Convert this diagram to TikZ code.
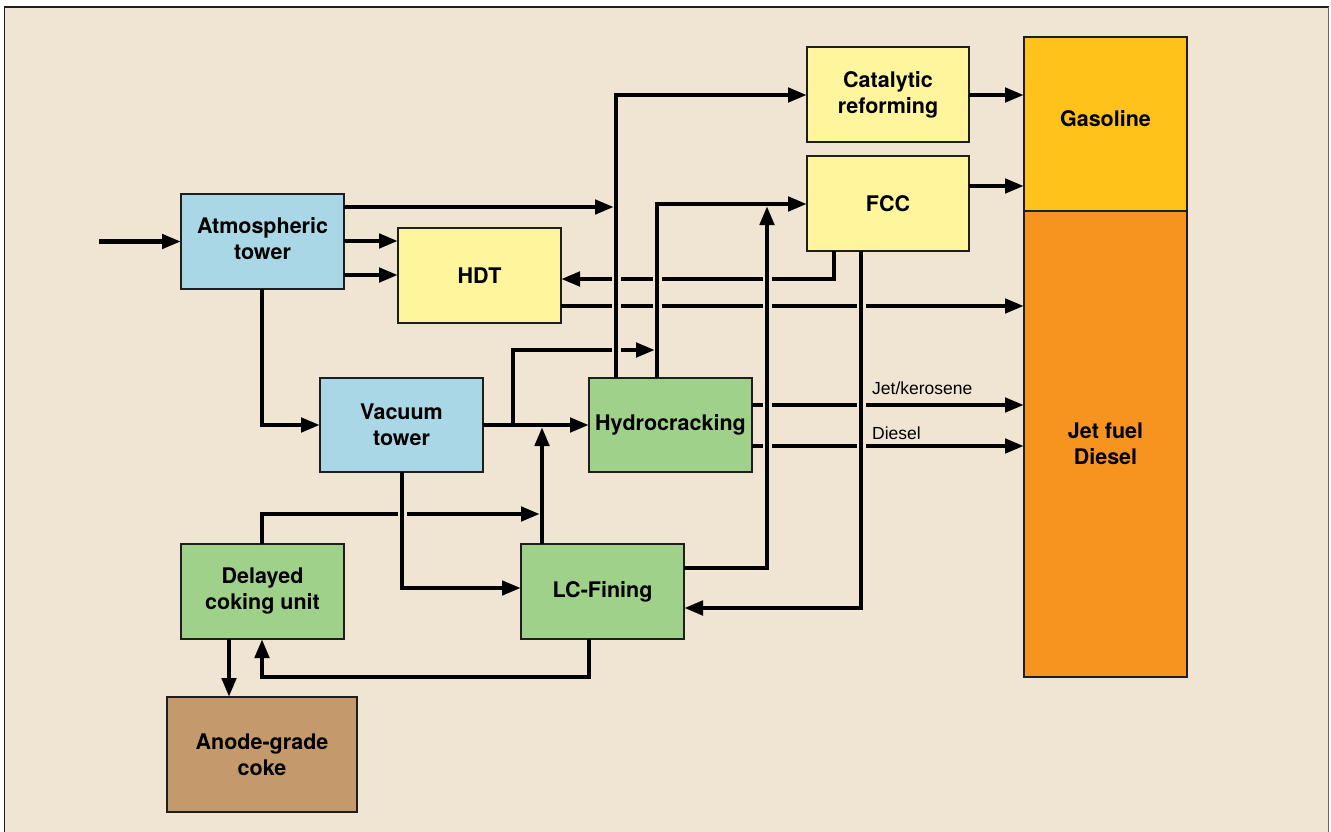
\documentclass[tikz,border=0pt]{standalone}
\usepackage{fontspec}
\setmainfont{TeX Gyre Heros}
\newfontfamily\lblfont{Liberation Sans}
\usetikzlibrary{arrows.meta}
\definecolor{bgc}{HTML}{F0E5D3}
\definecolor{blueb}{HTML}{A9D7E5}
\definecolor{yellowb}{HTML}{FFF59D}
\definecolor{greenb}{HTML}{A0D18A}
\definecolor{gasb}{HTML}{FFC21A}
\definecolor{jetb}{HTML}{F7941F}
\definecolor{cokeb}{HTML}{C49A6C}
\definecolor{edgec}{HTML}{1E1E1E}
\tikzset{
  box/.style={draw=edgec, line width=1.6pt, align=center, inner sep=0pt, outer sep=0pt,
    font=\fontsize{21.5}{26}\selectfont\bfseries},
  arr/.style={line width=4.5pt, line join=miter, -{Triangle[length=19pt,width=14pt]}},
  halo/.style={line width=9pt, draw=bgc},
  lbl/.style={font=\lblfont\fontsize{17.5}{20}\selectfont, anchor=base west, inner sep=0pt}
}
\begin{document}
\begin{tikzpicture}[x=1pt,y=-1pt]
\useasboundingbox (0,0) rectangle (1331,832);
\fill[white] (0,0) rectangle (1331,832);
\fill[bgc] (4.5,7) rectangle (1328.5,840);
\draw[edgec, line width=1.5pt] (4.5,840) -- (4.5,7) -- (1328.5,7);
\draw[gray!80!black, line width=1.5pt] (1328.5,7) -- (1328.5,840);

% boxes
\node[box, fill=blueb, minimum width=163pt, minimum height=95pt, text depth=7pt] (atm) at (262.5,241.5) {Atmospheric\\tower};
\node[box, fill=yellowb, minimum width=163pt, minimum height=95pt] (hdt) at (479.5,275.5) {HDT};
\node[box, fill=yellowb, minimum width=162pt, minimum height=95pt] (cat) at (888,94.5) {Catalytic\\reforming};
\node[box, fill=yellowb, minimum width=162pt, minimum height=95pt] (fcc) at (888,203.5) {FCC};
\node[box, fill=gasb, minimum width=163pt, minimum height=174pt, text depth=10.5pt] (gas) at (1105.5,124) {Gasoline};
\node[box, fill=jetb, minimum width=163pt, minimum height=466pt] (jet) at (1105.5,444) {Jet fuel\\Diesel};
\node[box, fill=blueb, minimum width=163pt, minimum height=94pt] (vac) at (401.5,425) {Vacuum\\tower};
\node[box, fill=greenb, minimum width=163pt, minimum height=94pt] (hc) at (670.5,425) {Hydrocracking};
\node[box, fill=greenb, minimum width=163pt, minimum height=95pt] (dcu) at (262.5,591.5) {Delayed\\coking unit};
\node[box, fill=greenb, minimum width=163pt, minimum height=95pt] (lcf) at (602.5,591.5) {LC-Fining};
\node[box, fill=cokeb, minimum width=190pt, minimum height=115pt] (coke) at (262,754.5) {Anode-grade\\coke};

% named free ends / junctions
\coordinate (in) at (99,241.5);
\coordinate (ja) at (614,207);
\coordinate (jb) at (655,350);
\coordinate (jc) at (513,425);
\coordinate (jd) at (542,427);
\coordinate (je) at (540,514);
\coordinate (jf) at (767,206);

% lines that get gaps
\draw[arr] (fcc.south -| 834,0) |- (hdt.east |- 0,279);
\draw[arr] (hdt.east |- 0,306) -- (jet.west |- 0,306);
\draw[arr] (jc) |- (jb);
\draw[arr] (hc.east |- 0,405) -- (jet.west |- 0,405);
\draw[arr] (hc.east |- 0,446) -- (jet.west |- 0,446);
\draw[arr] (dcu.north -| 262,0) |- (je);

% gaps
\draw[halo] (616,265) -- (616,362);
\draw[halo] (657,265) -- (657,320);
\draw[halo] (767,265) -- (767,460);
\draw[halo] (861,290) -- (861,460);
\draw[halo] (402,500) -- (402,528);

% remaining connectors
\draw[arr] (in) -- (atm.west);
\draw[arr] (atm.east |- 0,207) -- (ja);
\draw[arr] (atm.east |- 0,241) -- (hdt.west |- 0,241);
\draw[arr] (atm.east |- 0,275) -- (hdt.west |- 0,275);
\draw[arr] (hc.north -| 616,0) |- (cat.west |- 0,95);
\draw[arr] (hc.north -| 657,0) |- (fcc.west |- 0,204);
\draw[arr] (vac.east) -- (hc.west);
\draw[arr] (lcf.north -| 542,0) -- (jd);
\draw[arr] (vac.south -| 402,0) |- (lcf.west |- 0,588);
\draw[arr] (atm.south -| 262,0) |- (vac.west);
\draw[arr] (lcf.east |- 0,568) -| (jf);
\draw[arr] (fcc.south -| 861,0) |- (lcf.east |- 0,608);
\draw[arr] (cat.east |- 0,95) -- (gas.west |- 0,95);
\draw[arr] (fcc.east |- 0,186) -- (gas.west |- 0,186);
\draw[arr] (dcu.south -| 229,0) -- (coke.north -| 229,0);
\draw[arr] (lcf.south -| 589,0) -- (589,677) -| (dcu.south -| 262,0);

% labels
\node[lbl] (ljet) at (872,394) {Jet/kerosene};
\node[lbl] (ldie) at (872,439) {Diesel};
\end{tikzpicture}
\end{document}
